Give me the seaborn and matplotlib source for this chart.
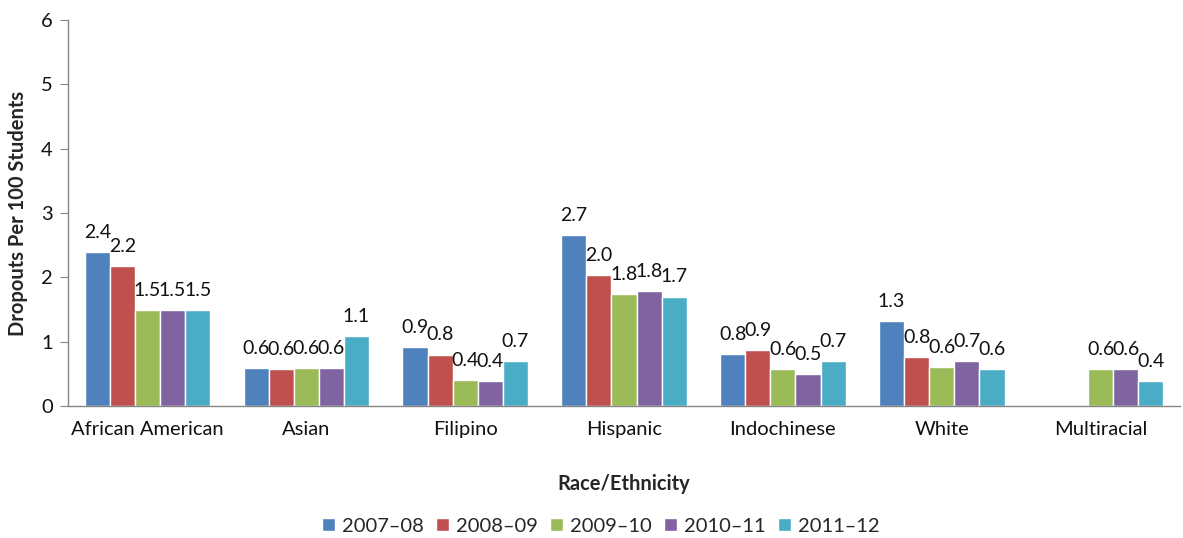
import numpy as np
import pandas as pd
import matplotlib
matplotlib.use('Agg')
import matplotlib.pyplot as plt
import seaborn as sns

groups = ['African American', 'Asian', 'Filipino', 'Hispanic', 'Indochinese', 'White', 'Multiracial']
years = ['2007\u201308', '2008\u201309', '2009\u201310', '2010\u201311', '2011\u201312']

# bar heights (NaN = no bar)
v_0708 = [2.39, 0.59, 0.92, 2.66, 0.81, 1.32, np.nan]
v_0809 = [2.17, 0.57, 0.80, 2.04, 0.87, 0.76, np.nan]
v_0910 = [1.49, 0.59, 0.40, 1.74, 0.57, 0.60, 0.58]
v_1011 = [1.49, 0.59, 0.39, 1.78, 0.49, 0.70, 0.58]
v_1112 = [1.49, 1.09, 0.70, 1.70, 0.70, 0.58, 0.39]

# data labels as printed
l_0708 = ['2.4', '0.6', '0.9', '2.7', '0.8', '1.3', '']
l_0809 = ['2.2', '0.6', '0.8', '2.0', '0.9', '0.8', '']
l_0910 = ['1.5', '0.6', '0.4', '1.8', '0.6', '0.6', '0.6']
l_1011 = ['1.5', '0.6', '0.4', '1.8', '0.5', '0.7', '0.6']
l_1112 = ['1.5', '1.1', '0.7', '1.7', '0.7', '0.6', '0.4']

colors = ['#4F81BD', '#C0504D', '#9BBB59', '#8064A2', '#4BACC6']

values = [v_0708, v_0809, v_0910, v_1011, v_1112]
labels = [l_0708, l_0809, l_0910, l_1011, l_1112]

rows = []
for y, vals in zip(years, values):
    for g, v in zip(groups, vals):
        rows.append({'group': g, 'year': y, 'rate': v})
df = pd.DataFrame(rows)

sns.set_style('white')
plt.rcParams['font.family'] = ['Lato', 'DejaVu Sans']
fs = 14.5

fig = plt.figure(figsize=(11.83, 5.38), dpi=100)
ax = fig.add_axes([0.0575, 0.2454, 0.94, 0.7175])

sns.barplot(data=df, x='group', y='rate', hue='year', hue_order=years,
            order=groups, palette=colors, saturation=1, width=0.79,
            errorbar=None, ax=ax, legend=True)

for i, cont in enumerate(ax.containers):
    for bar in cont:
        h = bar.get_height()
        if np.isnan(h) or h == 0:
            continue
        cx = bar.get_x() + bar.get_width() / 2
        idx = int(round(cx))
        ax.annotate(labels[i][idx], (cx, h), xytext=(0, 8), textcoords='offset points',
                    ha='center', va='bottom', fontsize=14, color='#111111')

ax.set_ylim(0, 6)
ax.set_xlim(-0.5, 6.5)
ax.set_yticks(range(7))
ax.set_xticks(np.arange(-0.5, 7, 1), minor=True)
ax.tick_params(axis='x', which='major', length=0, labelsize=fs, pad=11, labelcolor='#111111')
ax.tick_params(axis='x', which='minor', length=6, color='#868686', direction='out')
ax.tick_params(axis='y', length=6, color='#868686', direction='out', labelsize=fs,
               left=True, pad=5, labelcolor='#111111')

for s in ['top', 'right']:
    ax.spines[s].set_visible(False)
for s in ['left', 'bottom']:
    ax.spines[s].set_color('#868686')
    ax.spines[s].set_linewidth(1)

ax.set_xlabel('Race/Ethnicity', fontsize=fs, fontweight='bold', labelpad=26)
ax.set_ylabel('Dropouts Per 100 Students', fontsize=fs, fontweight='bold', labelpad=9)

handles, _ = ax.get_legend_handles_labels()
ax.get_legend().remove()
fig.legend(handles, years, loc='center', bbox_to_anchor=(0.508, 0.022), ncol=5,
           frameon=False, fontsize=fs, handlelength=0.65, handleheight=0.65,
           handletextpad=0.35, columnspacing=0.6)

fig.savefig('out.png', dpi=100)
